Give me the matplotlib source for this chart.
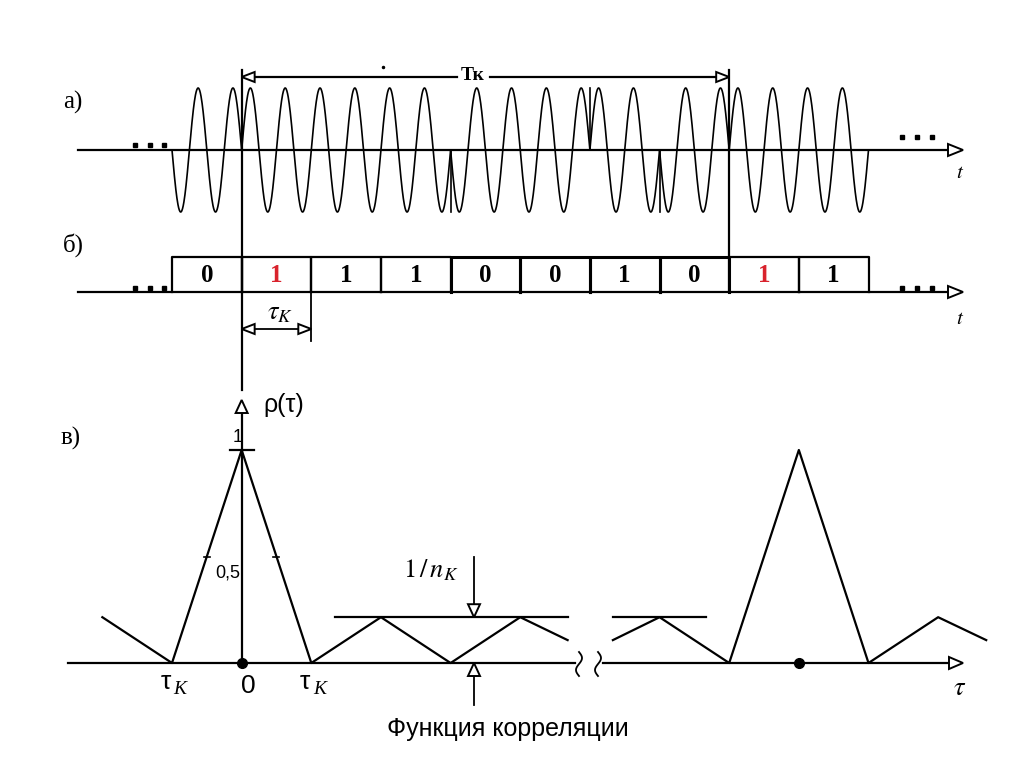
import numpy as np
import matplotlib
matplotlib.use("Agg")
import matplotlib.pyplot as plt
from matplotlib.patches import Polygon

# ---------------- data ----------------
bits = [0, 1, 1, 1, 0, 0, 1, 0, 1, 1]          # code sequence
red_bits = [1, 8]                              # indices shown in red
cycles_per_chip = 2
# correlation function (tau in units of tau_K, rho normalised)
side_level = 0.215                              # 1/n_K level as drawn
left_tau = [-2.0, -1.0, 0.0, 1.0, 2.0, 3.0, 4.0, 4.68]
left_rho = [side_level, 0.0, 1.0, 0.0, side_level, 0.0, side_level, side_level / 2]
right_tau = [5.33, 6.0, 7.0, 8.0, 9.0, 10.0, 10.69]
right_rho = [side_level / 2, side_level, 0.0, 1.0, 0.0, side_level, side_level / 2]
level_left = [1.34, 4.68]
level_right = [5.33, 6.67]

# ---------------- layout ----------------
W, H = 1024, 767
fig = plt.figure(figsize=(W / 100, H / 100), dpi=100)
ax = fig.add_axes([0, 0, 1, 1])
ax.set_xlim(0, W)
ax.set_ylim(H, 0)
ax.axis("off")

K = "black"
LW = 1.6
x0 = 172.0
cw = 69.65
ya, A = 150.0, 62.0
yb, ybt = 292.0, 257.0
yc, rs = 663.0, 213.0
RED = "#d9232d"
SERIF = "Liberation Serif"
SANS = "Liberation Sans"


def open_head(tip, direction, length=14, half=6, lw=1.4):
    tx, ty = tip
    dx, dy = direction
    bx, by = tx - dx * length, ty - dy * length
    px, py = -dy, dx
    pts = [(tx, ty), (bx + px * half, by + py * half), (bx - px * half, by - py * half)]
    ax.add_patch(Polygon(pts, closed=True, facecolor="white", edgecolor=K, lw=lw, zorder=5))


def dots(xs, y):
    ax.plot(xs, [y] * len(xs), ls="none", marker="s", ms=3.2, color=K, zorder=4)


def tx(t):
    return x0 + cw * (1 + np.asarray(t))


def ry(r):
    return yc - rs * np.asarray(r)


# ---------------- panel a ----------------
ax.plot([78, 950], [ya, ya], color=K, lw=LW)
open_head((963, ya), (1, 0), length=15, half=6)
for i, b in enumerate(bits):
    s = 1 if b == 1 else -1
    xs = np.linspace(x0 + i * cw, x0 + (i + 1) * cw, 200)
    ys = ya - A * s * np.sin(2 * np.pi * cycles_per_chip * (xs - x0 - i * cw) / cw)
    ax.plot(xs, ys, color=K, lw=1.2)
    if i > 0 and bits[i - 1] != b:
        xb = x0 + i * cw
        ax.plot([xb, xb], [ya, ya - A * s], color=K, lw=1.2)
dots([135, 149.5, 164], 145)
dots([902, 917, 932], 137)
ax.text(960, 172, r"$t$", fontsize=15, ha="center", va="center", math_fontfamily="stix")
ax.text(73, 102, "а)", fontsize=18, family=SERIF, ha="center", va="center")

# T_K dimension
xm1, xm2 = x0 + cw, x0 + 8 * cw
ay = 77
ax.plot([xm1 + 12, 457], [ay, ay], color=K, lw=LW)
ax.plot([490, xm2 - 11], [ay, ay], color=K, lw=LW)
open_head((xm1, ay), (-1, 0), length=13, half=5)
open_head((xm2, ay), (1, 0), length=13, half=5)
ax.text(473, 75, "Тк", fontsize=14, family=SERIF, weight="bold", ha="center", va="center")
ax.plot([383], [67], marker="o", ms=1.5, color=K)
ax.plot([xm1, xm1], [70, 390], color=K, lw=LW, zorder=3)
ax.plot([xm2, xm2], [70, ybt], color=K, lw=LW, zorder=3)

# ---------------- panel б ----------------
ax.plot([78, 950], [yb, yb], color=K, lw=LW)
open_head((963, yb), (1, 0), length=15, half=6)
for i, b in enumerate(bits):
    xl = x0 + i * cw
    lw = 2.2 if 4 <= i <= 7 else LW
    ax.plot([xl, xl, xl + cw, xl + cw], [yb, ybt, ybt, yb], color=K, lw=lw)
    ax.text(xl + cw / 2, 276, str(b), fontsize=18, family=SERIF, weight="bold",
            color=RED if i in red_bits else K, ha="center", va="center")
dots([135, 149.5, 164], 288)
dots([902, 917, 932], 288)
ax.text(960, 318, r"$t$", fontsize=15, ha="center", va="center", math_fontfamily="stix")
ax.text(73, 245, "б)", fontsize=18, family=SERIF, ha="center", va="center")
# tau_K dimension
x1b = x0 + 2 * cw
ax.plot([x1b, x1b], [yb, 341], color=K, lw=1.3)
ax.plot([xm1 + 12, x1b - 12], [329, 329], color=K, lw=1.3)
open_head((xm1, 329), (-1, 0), length=13, half=5)
open_head((x1b, 329), (1, 0), length=13, half=5)
ax.text(280, 312, r"$\tau_K$", fontsize=19, ha="center", va="center", math_fontfamily="stix")

# ---------------- panel в ----------------
ax.text(71, 438, "в)", fontsize=18, family=SERIF, ha="center", va="center")
ax.plot([68, 575], [yc, yc], color=K, lw=LW)
ax.plot([603, 950], [yc, yc], color=K, lw=LW)
open_head((963, yc), (1, 0), length=14, half=6)
# axis break marks
yy = np.linspace(652, 676, 40)
for xb in (579, 598):
    ax.plot(xb + 3 * np.sin(2 * np.pi * (yy - 652) / 24), yy, color=K, lw=1.3)
# rho axis
ax.plot([xm1, xm1], [yc, 413], color=K, lw=LW)
open_head((xm1, 400), (0, -1), length=13, half=6)
ax.text(284, 405, "ρ(τ)", fontsize=18, family=SANS, ha="center", va="center")
ax.plot([230, 254], [ry(1), ry(1)], color=K, lw=LW)
ax.text(238, 437, "1", fontsize=13, family=SANS, ha="center", va="center")
# correlation curves
ax.plot(tx(left_tau), ry(left_rho), color=K, lw=LW)
ax.plot(tx(right_tau), ry(right_rho), color=K, lw=LW)
ax.plot(tx(level_left), ry([side_level] * 2), color=K, lw=LW)
ax.plot(tx(level_right), ry([side_level] * 2), color=K, lw=LW)
# 0.5 ticks
for t in (-0.5, 0.5):
    ax.plot([tx(t) - 3, tx(t) + 3], [ry(0.5), ry(0.5)], color=K, lw=1.2)
ax.text(228, 573, "0,5", fontsize=13, family=SANS, ha="center", va="center")
ax.plot([tx(0), tx(8)], [yc, yc], ls="none", marker="o", ms=7, color=K, zorder=6)
# tau labels
for xc in (tx(-1), tx(1)):
    ax.text(xc - 6, 682, "τ", fontsize=19, family=SANS, ha="center", va="center")
    ax.text(xc + 8, 690, "K", fontsize=14, family=SERIF, style="italic", ha="center", va="center")
ax.text(248, 686, "0", fontsize=19, family=SANS, ha="center", va="center")
ax.text(960, 688, r"$\tau$", fontsize=19, ha="center", va="center", math_fontfamily="stix")
# 1/n_K marker
xn = 474
ax.plot([xn, xn], [557, 604], color=K, lw=1.3)
open_head((xn, ry(side_level)), (0, 1), length=13, half=6)
ax.plot([xn, xn], [676, 705], color=K, lw=1.3)
open_head((xn, yc), (0, -1), length=13, half=6)
ax.text(431, 570, r"$1\,/\,n_K$", fontsize=19, ha="center", va="center", math_fontfamily="stix")

# caption
ax.text(508, 729, "Функция корреляции", fontsize=18, family=SANS, ha="center", va="center")

fig.savefig("out.png", dpi=100, facecolor="white")
